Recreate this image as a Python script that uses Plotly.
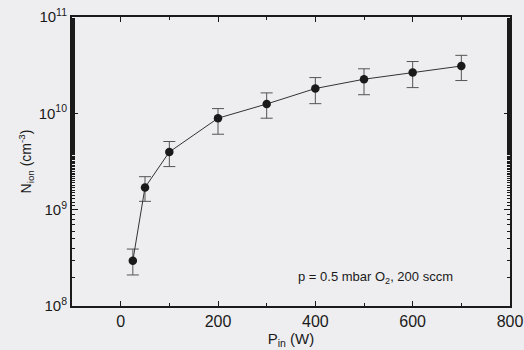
import plotly.graph_objects as go

p_in = [25, 50, 100, 200, 300, 400, 500, 600, 700]
n_ion = [2.95e8, 1.7e9, 3.97e9, 8.9e9, 1.25e10, 1.81e10, 2.26e10, 2.65e10, 3.1e10]
err_hi = [3.9e8, 2.2e9, 5.1e9, 1.12e10, 1.63e10, 2.35e10, 2.9e10, 3.45e10, 4.0e10]
err_lo = [2.1e8, 1.22e9, 2.8e9, 6.07e9, 8.9e9, 1.26e10, 1.56e10, 1.85e10, 2.19e10]

y_tickvals = [1e8, 1e9, 1e10, 1e11]
y_ticktext = ["10<sup>8</sup>", "10<sup>9</sup>", "10<sup>10</sup>", "10<sup>11</sup>"]
x_tickvals = [0, 200, 400, 600, 800]

plus = [h - v for h, v in zip(err_hi, n_ion)]
minus = [v - l for v, l in zip(n_ion, err_lo)]

ink = "#1a1a1a"
bg = "#eeeef0"
font = "Liberation Sans, Arial, sans-serif"

fig = go.Figure()
fig.add_trace(go.Scatter(
    x=p_in, y=n_ion, mode="lines+markers",
    line=dict(color="#333", width=1),
    marker=dict(color=ink, size=8.5),
    error_y=dict(type="data", symmetric=False, array=plus, arrayminus=minus,
                 color="#555", thickness=1, width=6),
    showlegend=False,
))

fig.add_annotation(x=524, y=8.30, xref="x", yref="y",
                   text="p = 0.5 mbar O<sub>2</sub>, 200 sccm",
                   showarrow=False, font=dict(size=13, color=ink, family=font))

fig.update_layout(
    width=524, height=350,
    margin=dict(l=72, r=14, t=17, b=44),
    paper_bgcolor=bg, plot_bgcolor=bg,
    font=dict(family=font, color=ink),
)
fig.update_xaxes(
    automargin=False,
    range=[-100, 800], tickvals=x_tickvals, ticks="inside", ticklen=5,
    tickcolor=ink, linecolor=ink, linewidth=2, mirror="ticks", showgrid=False,
    zeroline=False, tickfont=dict(size=16),
    minor=dict(dtick=100, tick0=0, ticks="inside", ticklen=3, tickcolor=ink),
    title=dict(text="P<sub>in</sub> (W)", font=dict(size=15), standoff=2),
)
fig.update_yaxes(
    automargin=False,
    type="log", range=[8, 11], tickvals=y_tickvals, ticktext=y_ticktext,
    ticks="inside", ticklen=6, tickcolor=ink, linecolor=ink, linewidth=2,
    mirror="ticks", showgrid=False, zeroline=False, tickfont=dict(size=15),
    minor=dict(ticks="inside", ticklen=3, tickcolor=ink, showgrid=False),
    title=dict(text="N<sub>ion</sub> (cm<sup>-3</sup>)", font=dict(size=14), standoff=4),
)

fig.write_html(
    "out.html",
    config={"displayModeBar": False},
    post_script="document.body.style.margin='0';document.body.style.background='%s';document.body.style.overflow='hidden';" % bg,
)
